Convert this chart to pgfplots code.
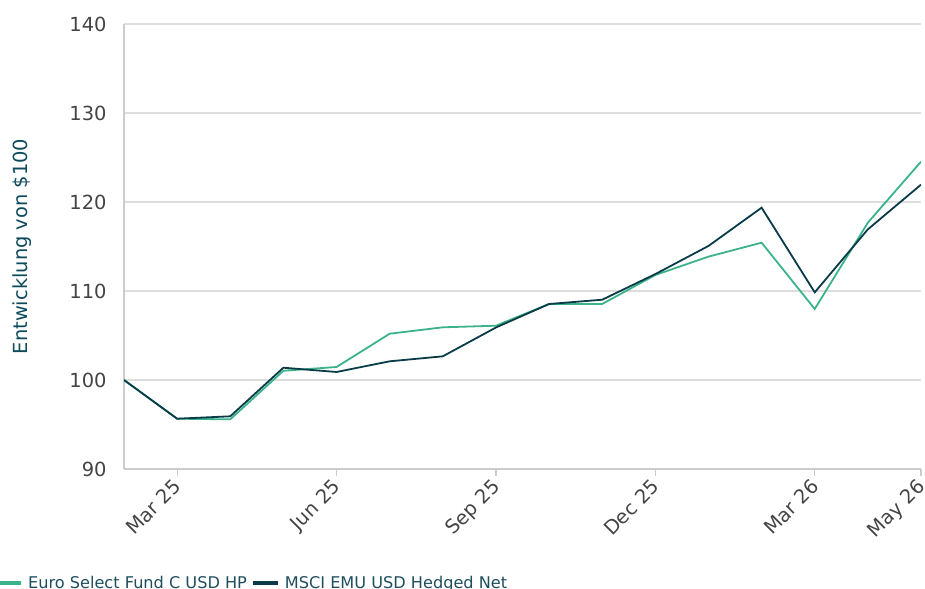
\documentclass[border=0pt]{standalone}
\usepackage{fontspec}
\setmainfont{DejaVu Sans}
\usepackage{pgfplots}
\pgfplotsset{compat=1.18}
\definecolor{fundgreen}{HTML}{3BB38A}
\definecolor{msci}{HTML}{0A3B48}
\definecolor{ticktext}{HTML}{444444}
\definecolor{ylab}{HTML}{0C4A5C}
\definecolor{axisgray}{HTML}{CCCCCC}
\definecolor{gridgray}{HTML}{DDDDDD}
\definecolor{legtext}{HTML}{1E4E5E}
\begin{document}
\begin{tikzpicture}
\begin{axis}[
  at={(124bp,120bp)}, anchor=south west,
  scale only axis, width=797bp, height=445bp,
  xmin=0, xmax=15, ymin=90, ymax=140,
  axis x line*=bottom, axis y line*=left,
  axis line style={-, draw=axisgray, line width=1.3bp},
  ytick={90,100,...,140},
  ymajorgrids, grid style={draw=gridgray, line width=1.2bp},
  xtick={1,4,7,10,13,15},
  xticklabels={Mar 25, Jun 25, Sep 25, Dec 25, Mar 26, May 26},
  tick align=outside, major tick length=7bp,
  ytick style={draw=none},
  xtick style={draw=axisgray, line width=1.2bp},
  /pgf/number format/assume math mode=true,
  yticklabel style={font=\fontsize{19.5}{19.5}\selectfont, text=ticktext, xshift=-7bp},
  xticklabel style={font=\fontsize{19.5}{19.5}\selectfont, text=ticktext, xshift=-5bp, yshift=3bp, rotate=45, anchor=north east},
  ylabel={Entwicklung von \$100},
  ylabel style={font=\fontsize{19.5}{19.5}\selectfont, text=ylab, at={(axis description cs:-0.128,0.5)}, anchor=center},
  legend columns=-1,
  legend image code/.code={\draw[#1, line width=4bp] (0bp,0bp) -- (25bp,0bp);},
  legend style={draw=none, fill=none, inner sep=0pt, at={(axis description cs:-0.1631,-0.2562)}, anchor=west,
    font=\fontsize{16.2}{16.2}\selectfont, text=legtext,
    /tikz/every even column/.append style={column sep=2bp},
    /tikz/every odd column/.append style={column sep=3bp}},
]
\addplot[color=fundgreen, line width=1.8bp] coordinates {
 (0,100) (1,95.65) (2,95.58) (3,101.04) (4,101.46) (5,105.2) (6,105.92) (7,106.1)
 (8,108.54) (9,108.54) (10,111.8) (11,113.86) (12,115.43) (13,107.98) (14,117.68) (15,124.53)};
\addlegendentry{Euro Select Fund C USD HP}
\addplot[color=msci, line width=1.8bp] coordinates {
 (0,100) (1,95.65) (2,95.92) (3,101.38) (4,100.9) (5,102.1) (6,102.66) (7,105.9)
 (8,108.54) (9,109.02) (10,111.9) (11,115.06) (12,119.36) (13,109.85) (14,116.93) (15,121.95)};
\addlegendentry{MSCI EMU USD Hedged Net}
\end{axis}
\pgfresetboundingbox
\useasboundingbox (0bp,0bp) rectangle (925bp,589bp);
\end{tikzpicture}
\end{document}
